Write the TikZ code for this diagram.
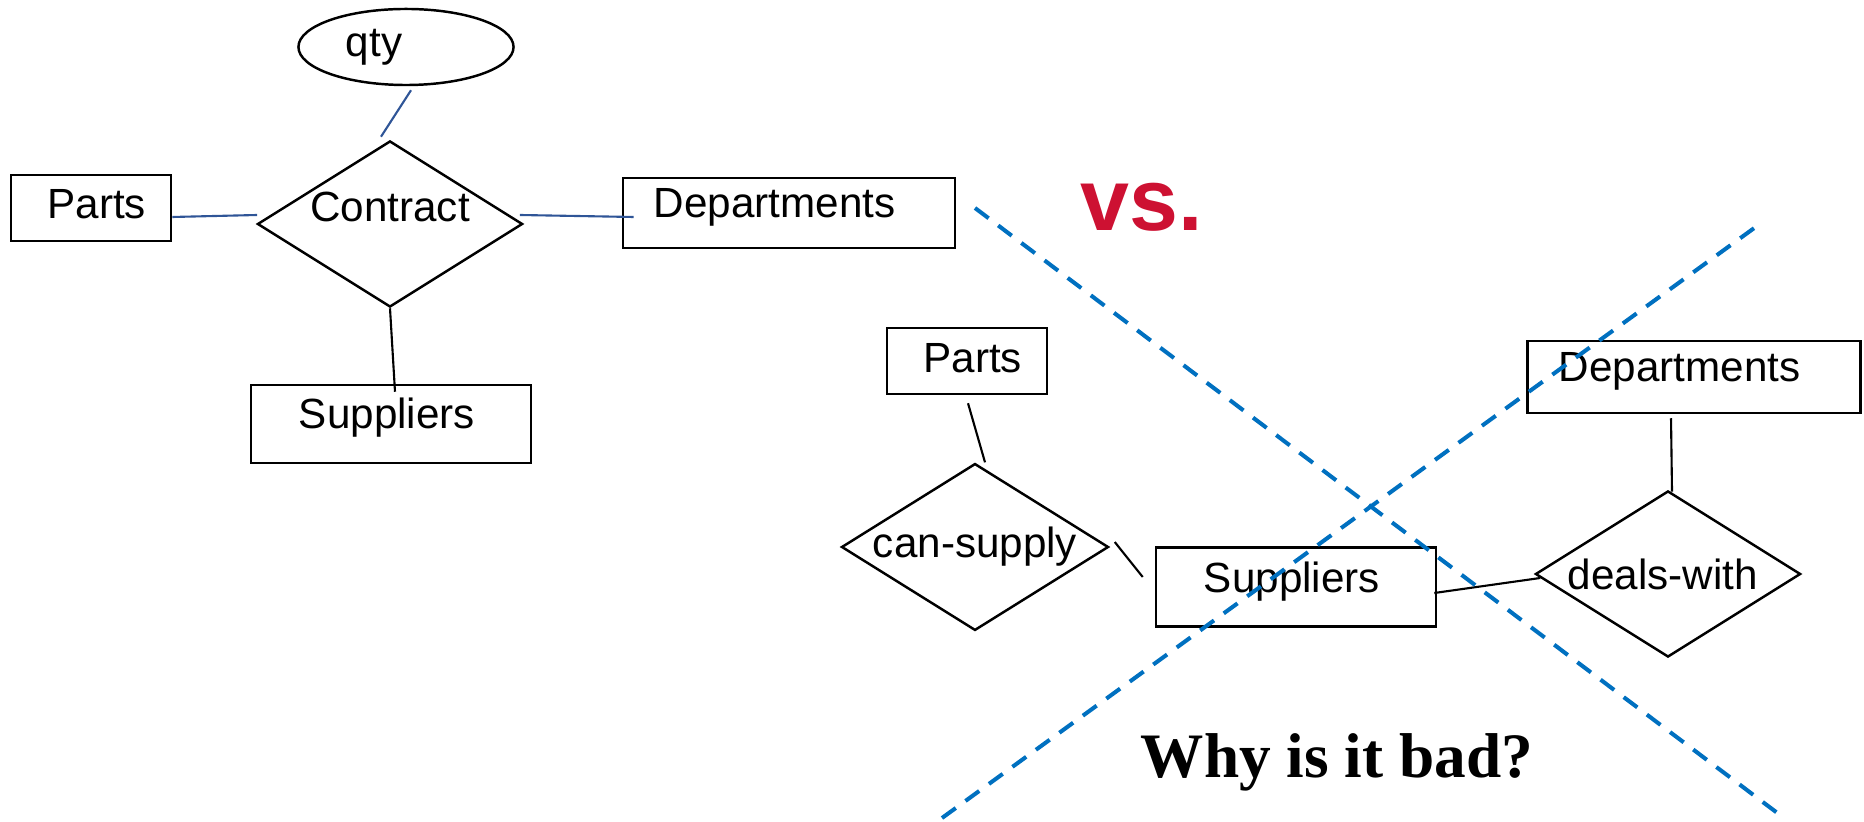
\documentclass[tikz,border=0pt]{standalone}
\usepackage{fontspec}
\setmainfont{Liberation Sans}
\newfontfamily\whyFont{Liberation Serif}
\usepackage{tikz}
\usetikzlibrary{shapes.geometric, positioning, calc}
\definecolor{linkBlue}{RGB}{47, 85, 151}
\definecolor{crossBlue}{RGB}{0, 112, 192}
\definecolor{vsRed}{RGB}{205, 17, 50}
\tikzstyle{line} = [semithick]
\tikzstyle{blueline} = [semithick, draw=linkBlue]
\tikzstyle{cross} = [line width=1.15pt, draw=crossBlue, dash pattern=on 0.17cm off 0.12cm]
\tikzstyle{entity} = [rectangle, draw=black, line width=0.7pt, fill=white, text=black, text height=0.30cm, text depth=0.20cm, inner sep=0pt]
\tikzstyle{partbox} = [text width=1.10cm, align=right, inner xsep=0.25cm, text depth=0.08cm]
\tikzstyle{suppbox} = [text width=1.84cm, align=left, inner xsep=0.48cm]
\tikzstyle{deptbox} = [text width=2.70cm, align=left, inner xsep=0.31cm]
\tikzstyle{relation} = [diamond, draw=black, line width=0.7pt, fill=white, aspect=1.6, inner sep=0pt, minimum width=2.65cm, minimum height=1.66cm]
\tikzstyle{attrib} = [ellipse, draw=black, line width=0.7pt, fill=white, inner sep=0pt]

\begin{document}
\begin{tikzpicture}[x=0.01cm, y=-0.01cm, font=\fontsize{12}{14}\selectfont]
\useasboundingbox (0,0) rectangle (1864,822);

\node (qty) [attrib, minimum width=2.15cm, minimum height=0.76cm, text width=1.2cm, align=left] at (406,47) {qty};
\node (contract) [relation, text depth=0.35cm] at (390,224) {Contract};
\node (partsA) [entity, partbox, minimum width=1.60cm, minimum height=0.66cm] at (91,208) {Parts};
\node (deptA) [entity, deptbox, minimum width=3.32cm, minimum height=0.70cm] at (789,213) {Departments};
\node (suppA) [entity, suppbox, minimum width=2.80cm, minimum height=0.78cm] at (391,424) {Suppliers};

\draw [blueline] ($(qty.south) + (5,4)$) -- ($(contract.north) + (-9,-3)$);
\draw [blueline] ($(partsA.east) + (0,9)$) -- ($(contract.west) + (1,-9)$);
\draw [blueline] ($(contract.east) + (-4,-9)$) -- ($(deptA.west) + (12,4)$);
\draw [line] (contract.south) -- ($(suppA.north) + (4,8)$);

\node (partsB) [entity, partbox, minimum width=1.59cm, minimum height=0.66cm] at (967,361) {Parts};
\node (canSupply) [relation] at (975,547) {can-supply};
\node (suppB) [entity, suppbox, minimum width=2.80cm, minimum height=0.79cm] at (1296,587) {Suppliers};
\node (dealsWith) [relation, text width=2.0cm, align=left] at (1668,574) {deals-with};
\node (deptB) [entity, deptbox, minimum width=3.33cm, minimum height=0.72cm] at (1694,377) {Departments};

\draw [line] ($(partsB.south) + (1,8)$) -- ($(canSupply.north) + (10,0)$);
\draw [line] ($(canSupply.east) + (5,-5)$) -- ($(suppB.west) + (-12,-10)$);
\draw [line] ($(suppB.east) + (-3,6)$) -- ($(dealsWith.west) + (6,4)$);
\draw [line] ($(deptB.south) + (-23,4)$) -- ($(dealsWith.north) + (4,2)$);

\node (vsNote) [anchor=base, text=vsRed, font=\fontsize{25}{30}\selectfont\bfseries] at (1142,231) {vs.};
\node (whyNote) [anchor=base, font=\whyFont\fontsize{18}{22}\selectfont\bfseries] at (1337,777) {Why is it bad?};

\coordinate (crossA1) at (975,208);
\coordinate (crossA2) at (1780,815);
\coordinate (crossB1) at (942,818);
\coordinate (crossB2) at (1757,226);
\draw [cross] (crossA1) -- (crossA2);
\draw [cross] (crossB1) -- (crossB2);

\end{tikzpicture}
\end{document}
